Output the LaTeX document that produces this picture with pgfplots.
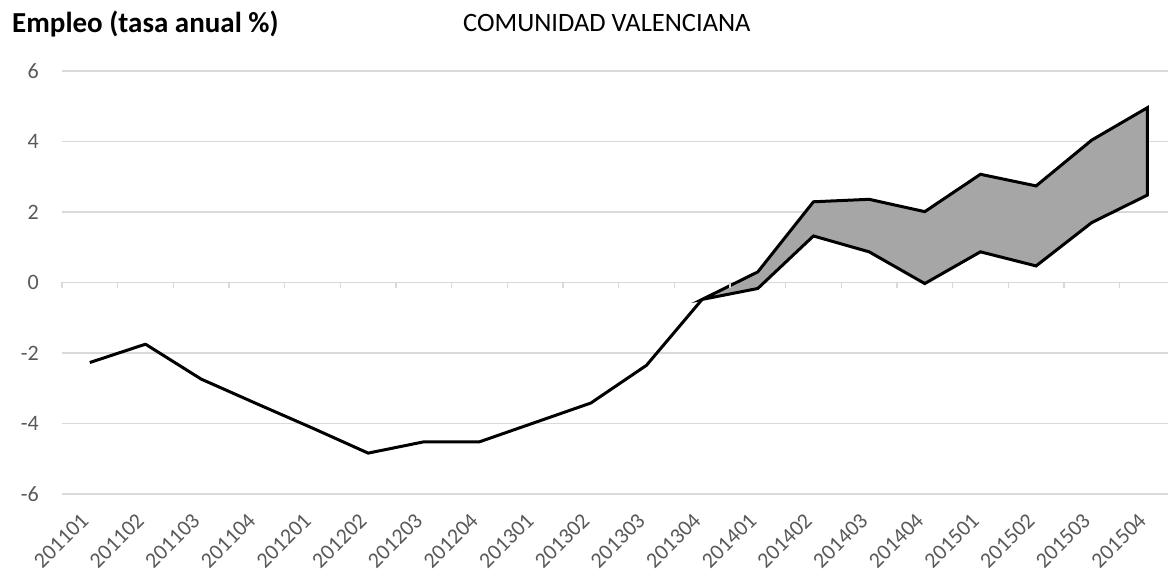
\documentclass[border=0pt]{standalone}
\usepackage{pgfplots}
\pgfplotsset{compat=1.18}
\usepackage{fontspec}
\setmainfont{Carlito}
\definecolor{gridc}{HTML}{D9D9D9}
\definecolor{labc}{HTML}{595959}
\definecolor{bandc}{HTML}{A6A6A6}
\begin{document}
\begin{tikzpicture}
\path[use as bounding box] (-62pt,-89pt) rectangle (1106pt,494pt);
\begin{axis}[
  at={(0,0)}, anchor=south west,
  scale only axis, width=1106pt, height=423pt,
  xmin=-0.5, xmax=19.37, ymin=-6, ymax=6,
  axis line style={draw=none},
  major tick length=0pt,
  ytick={-6,-4,-2,0,2,4,6},
  ymajorgrids, grid style={gridc, line width=1.4pt},
  xtick={0,...,19},
  xticklabels={201101,201102,201103,201104,201201,201202,201203,201204,201301,201302,201303,201304,201401,201402,201403,201404,201501,201502,201503,201504},
  /pgf/number format/assume math mode=true,
  yticklabel style={font=\fontsize{22}{26}\selectfont, text=labc, inner sep=0pt, anchor=east, xshift=-23pt},
  xticklabel style={font=\fontsize{22}{26}\selectfont, text=labc, inner sep=0pt, xshift=-5pt, yshift=-23pt, rotate=45, anchor=east},
  clip=false,
]
\addplot[black, line width=3pt, line join=round] coordinates {
(0,-2.27) (1,-1.75) (2,-2.74) (3,-3.44) (4,-4.13) (5,-4.84) (6,-4.52) (7,-4.52) (8,-3.97) (9,-3.42) (10,-2.35) (11,-0.48)
};
\addplot[draw=black, fill=bandc, line width=3pt, line join=miter] coordinates {
(11,-0.48) (12,0.30) (13,2.29) (14,2.36) (15,2.01) (16,3.07) (17,2.74) (18,4.04) (19,4.96)
(19,2.48) (18,1.70) (17,0.47) (16,0.87) (15,-0.03) (14,0.87) (13,1.32) (12,-0.17) (11,-0.48)
} -- cycle;
\end{axis}
\begin{axis}[
  at={(0,0)}, anchor=south west,
  scale only axis, width=1106pt, height=423pt,
  xmin=-0.5, xmax=19.37, ymin=-6, ymax=6,
  axis x line=middle, axis y line=none,
  axis line style={draw=none},
  xtick={-0.5,0.5,...,19.5}, xticklabels={},
  ytick=\empty,
  x tick style={gridc, line width=1.4pt},
  tick align=outside,
  major tick length=6pt,
  clip=true,
]
\addplot[draw=none] coordinates {(0,0) (19,0)};
\end{axis}
\node[anchor=base west, inner sep=0pt, font=\bfseries\fontsize{29}{34}\selectfont] at (-50pt,461pt) {Empleo (tasa anual \%)};
\node[anchor=base west, inner sep=0pt, font=\fontsize{26.5}{32}\selectfont] at (401pt,462pt) {COMUNIDAD VALENCIANA};
\end{tikzpicture}
\end{document}
